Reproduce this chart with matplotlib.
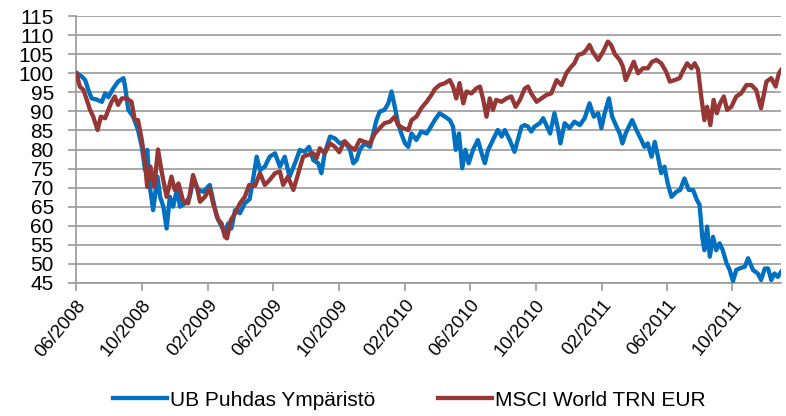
import matplotlib
matplotlib.use("Agg")
import matplotlib.pyplot as plt
import matplotlib.dates as mdates
import pandas as pd

start = "2008-06-01"
end_day = 1307

series_names = ["UB Puhdas Ympäristö", "MSCI World TRN EUR"]
colors = ["#0070C0", "#953735"]

ub_days = [1, 11, 17, 23, 29, 38, 48, 54, 60, 69, 78, 88, 91, 97, 106, 115, 122, 128, 132, 137,
           143, 151, 156, 162, 168, 174, 180, 187, 193, 202, 211, 217, 227, 236, 248, 254, 261, 270, 276, 282,
           288, 295, 304, 313, 322, 328, 335, 341, 350, 359, 369, 378, 387, 396, 406, 415, 424, 432, 440, 449,
           455, 461, 471, 480, 489, 498, 508, 514, 520, 526, 535, 545, 551, 557, 563, 572, 579, 585, 591, 597,
           603, 610, 616, 622, 631, 640, 650, 656, 665, 674, 684, 693, 699, 704, 710, 716, 722, 728, 736, 745,
           752, 758, 764, 770, 776, 782, 789, 795, 804, 813, 819, 826, 832, 838, 844, 850, 860, 866, 872, 879,
           887, 894, 898, 906, 915, 924, 934, 943, 952, 960, 968, 974, 980, 988, 994, 1002, 1008, 1013, 1019, 1025,
           1031, 1039, 1048, 1054, 1060, 1067, 1073, 1079, 1085, 1091, 1097, 1104, 1113, 1120, 1128, 1136, 1144, 1151, 1156, 1161,
           1165, 1170, 1175, 1181, 1187, 1193, 1199, 1206, 1212, 1218, 1224, 1230, 1240, 1246, 1255, 1264, 1270, 1277, 1283, 1289,
           1295, 1301, 1307]
ub_values = [100.0, 99.1, 98.2, 95.6, 93.4, 93.1, 92.5, 94.7, 93.7, 96.0, 97.8, 98.7, 96.5, 90.4, 88.6, 85.1, 80.7, 74.6, 79.9, 70.2,
             64.1, 72.9, 67.6, 65.0, 59.3, 67.6, 65.0, 69.4, 65.0, 65.9, 67.6, 72.0, 69.4, 68.9, 70.7, 66.8, 62.4, 59.8, 58.0, 60.6,
             59.3, 64.1, 63.3, 65.9, 67.0, 72.0, 78.1, 74.6, 75.5, 78.1, 79.0, 75.5, 78.1, 72.9, 76.4, 79.9, 79.4, 80.7, 77.2, 76.4,
             73.8, 79.0, 83.4, 82.9, 81.6, 82.0, 79.9, 76.4, 77.2, 79.9, 81.6, 80.7, 84.2, 87.7, 89.9, 90.4, 92.1, 95.2, 91.2, 86.9,
             84.2, 81.6, 80.7, 84.2, 82.5, 84.7, 84.2, 85.5, 87.7, 89.5, 88.6, 87.7, 86.0, 79.9, 84.2, 75.1, 79.9, 76.4, 79.9, 82.5,
             79.0, 76.4, 79.9, 81.6, 83.4, 85.1, 83.4, 85.1, 82.5, 79.4, 82.5, 86.0, 86.4, 86.0, 84.7, 86.0, 86.9, 88.2, 86.4, 84.2,
             89.5, 85.1, 81.6, 86.9, 85.6, 87.3, 86.4, 88.2, 92.1, 88.6, 89.5, 85.6, 89.5, 93.4, 88.6, 86.0, 84.2, 81.6, 84.2, 86.0,
             87.7, 85.1, 82.5, 80.7, 81.6, 78.1, 82.0, 78.1, 73.8, 75.5, 71.1, 67.6, 68.9, 69.4, 72.4, 69.4, 69.4, 66.8, 65.5, 57.1,
             53.6, 59.8, 51.9, 57.1, 53.6, 55.4, 53.6, 50.2, 48.4, 45.5, 48.4, 48.8, 49.3, 51.5, 48.4, 47.5, 45.8, 48.8, 48.8, 45.8,
             47.5, 46.6, 47.9]

msci_days = [1, 7, 14, 20, 26, 32, 40, 46, 54, 60, 66, 72, 78, 85, 94, 103, 109, 115, 122, 128,
             132, 138, 145, 152, 159, 168, 177, 183, 190, 199, 208, 217, 224, 230, 239, 248, 254, 264, 270, 276,
             280, 287, 295, 304, 313, 321, 332, 341, 350, 359, 369, 378, 384, 393, 403, 412, 421, 430, 440, 446,
             452, 461, 471, 480, 488, 498, 508, 517, 526, 535, 545, 554, 563, 572, 582, 591, 597, 606, 616, 622,
             631, 640, 650, 659, 665, 674, 684, 693, 699, 705, 711, 718, 724, 733, 742, 749, 755, 761, 767, 773,
             779, 789, 798, 807, 815, 823, 832, 838, 844, 854, 863, 872, 881, 891, 900, 909, 918, 924, 931, 940,
             946, 952, 958, 968, 977, 986, 992, 999, 1008, 1014, 1019, 1026, 1034, 1042, 1051, 1060, 1068, 1076, 1085, 1094,
             1101, 1110, 1119, 1126, 1133, 1141, 1147, 1153, 1159, 1165, 1170, 1176, 1182, 1188, 1194, 1201, 1207, 1215, 1224, 1233,
             1243, 1252, 1261, 1270, 1280, 1289, 1297, 1303, 1307]
msci_values = [100.0, 96.5, 95.6, 93.0, 90.4, 88.6, 85.1, 88.6, 88.2, 90.4, 92.5, 93.9, 91.7, 93.4, 93.4, 92.5, 87.7, 87.7, 82.5, 76.4,
               70.2, 75.5, 70.2, 80.0, 74.0, 67.6, 72.9, 69.4, 71.1, 66.3, 65.9, 73.3, 70.2, 66.3, 67.6, 69.8, 65.9, 61.5, 60.6, 57.1,
               56.7, 61.5, 63.3, 65.9, 67.6, 70.7, 70.5, 73.8, 70.7, 72.0, 73.8, 74.2, 70.7, 72.9, 69.4, 73.8, 78.1, 78.6, 79.0, 77.7,
               80.3, 79.0, 81.6, 80.7, 79.3, 82.2, 80.7, 79.9, 82.5, 82.0, 81.6, 84.2, 85.6, 86.9, 87.3, 88.6, 86.4, 85.6, 85.1, 87.7,
               88.6, 90.8, 92.5, 94.3, 95.8, 96.9, 97.4, 98.2, 96.5, 93.4, 97.4, 92.1, 95.2, 94.7, 96.0, 96.5, 93.0, 88.6, 93.4, 90.4,
               93.0, 92.5, 93.4, 93.9, 91.2, 93.0, 96.0, 96.5, 94.7, 92.5, 93.4, 94.3, 94.7, 98.2, 96.9, 100.0, 101.7, 102.6, 104.8, 105.2,
               106.1, 107.4, 105.6, 103.5, 105.6, 108.3, 107.4, 105.0, 103.5, 101.7, 98.2, 100.4, 103.0, 100.0, 101.3, 101.3, 103.0, 103.5, 102.6, 100.4,
               97.8, 98.2, 98.7, 100.8, 102.6, 101.3, 102.6, 101.0, 94.0, 87.7, 91.2, 86.4, 93.0, 89.5, 92.1, 93.9, 90.4, 91.2, 93.9, 94.7,
               96.9, 96.9, 95.6, 90.8, 97.8, 98.7, 96.5, 100.0, 100.8]

y_ticks = list(range(45, 120, 5))

plt.rcParams["font.family"] = ["Liberation Sans", "DejaVu Sans"]

t0 = pd.Timestamp(start)
ub_dates = t0 + pd.to_timedelta(ub_days, unit="D")
msci_dates = t0 + pd.to_timedelta(msci_days, unit="D")

fig = plt.figure(figsize=(7.86, 4.16), dpi=100)
ax = fig.add_axes([76 / 786, 1 - 283 / 416, (781 - 76) / 786, (283 - 16) / 416])

grid_c = "#9a9a9a"
ax.plot(ub_dates, ub_values, color=colors[0], lw=3.1, label=series_names[0], zorder=3,
        solid_joinstyle="round")
ax.plot(msci_dates, msci_values, color=colors[1], lw=3.1, label=series_names[1], zorder=4,
        solid_joinstyle="round")

ax.set_ylim(45, 115)
ax.set_yticks(y_ticks)
ax.yaxis.grid(True, color=grid_c, lw=1.2)
ax.set_axisbelow(True)
ax.set_xlim(t0, t0 + pd.Timedelta(days=end_day))
ax.xaxis.set_major_locator(mdates.MonthLocator(bymonth=[2, 6, 10]))
ax.xaxis.set_major_formatter(mdates.DateFormatter("%m/%Y"))

for s in ["top", "right"]:
    ax.spines[s].set_visible(False)
for s in ["left", "bottom"]:
    ax.spines[s].set_color(grid_c)
    ax.spines[s].set_linewidth(1.2)

ax.tick_params(axis="y", length=6, width=1.2, color=grid_c, labelsize=15, pad=10)
ax.tick_params(axis="x", length=6, width=1.2, color=grid_c, labelsize=13.5, pad=4)
for lbl in ax.get_xticklabels():
    lbl.set_rotation(50)
    lbl.set_ha("right")
    lbl.set_rotation_mode("anchor")

fig.legend(loc="center", bbox_to_anchor=(409 / 786, 1 - 400 / 416), ncol=2, frameon=False,
           fontsize=15, handlelength=2.6, handletextpad=0.15, columnspacing=3.0)

fig.savefig("out.png", dpi=100)
